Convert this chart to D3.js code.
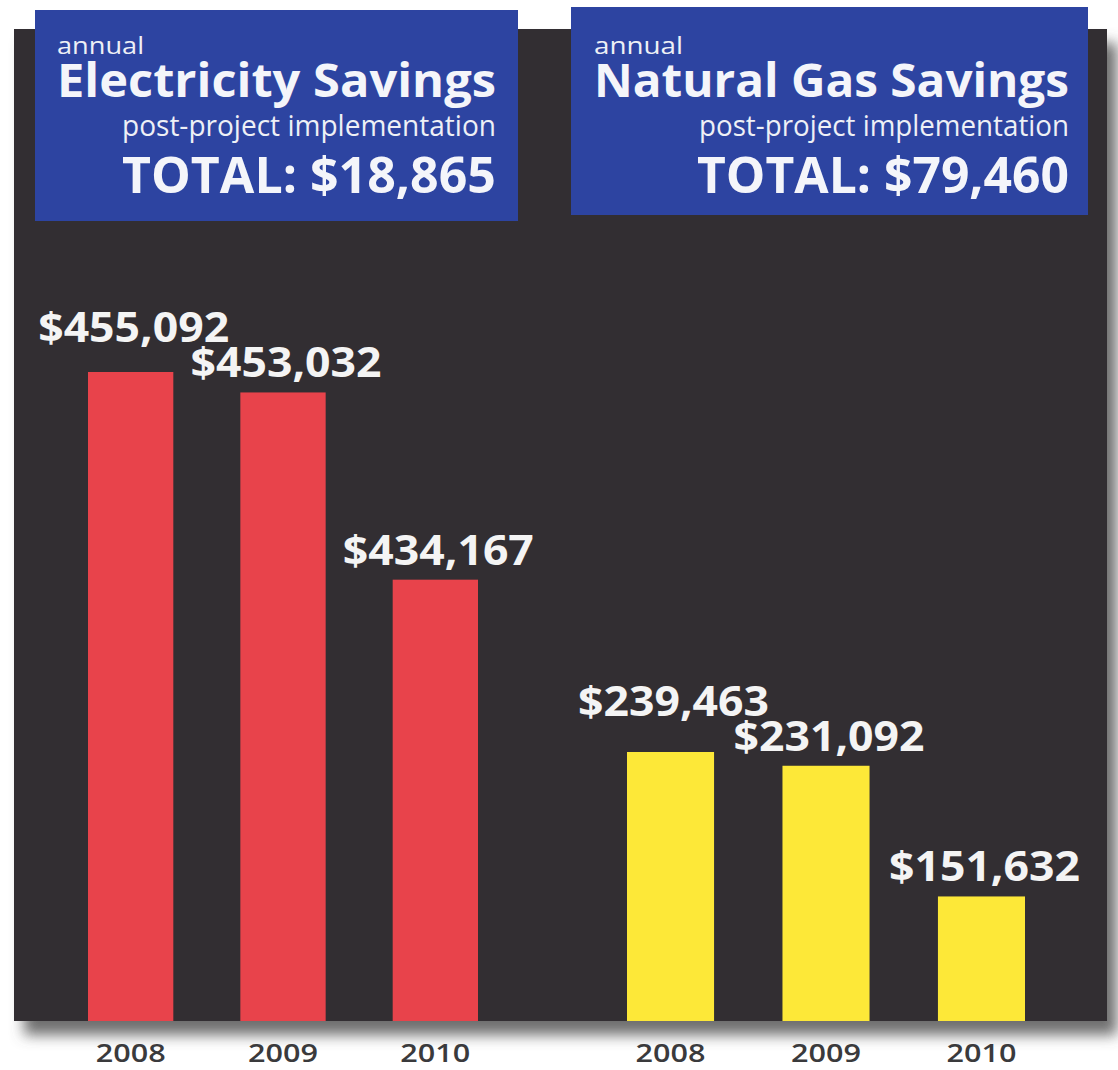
<!DOCTYPE html>
<html>
<head>
<meta charset="utf-8">
<script src="https://cdn.jsdelivr.net/npm/d3@7"></script>
<style>
  html, body { margin: 0; padding: 0; background: #ffffff; }
  svg { display: block; }
  text { font-family: "Open Sans", "Noto Sans", sans-serif; }
</style>
</head>
<body>
<svg id="chart" width="1118" height="1070"></svg>
<script>
// ---------------- data ----------------
const years = ["2008", "2009", "2010"];
const electricityValues = [455092, 453032, 434167];
const gasValues = [239463, 231092, 151632];
const panelTitles = ["Electricity Savings", "Natural Gas Savings"];
const panelTotals = [18865, 79460];
const kicker = "annual";
const subtitle = "post-project implementation";

// ---------------- setup ----------------
const svg = d3.select("#chart");
const fmt = d3.format("$,");
const baseline = 1021;

const defs = svg.append("defs");
const f = defs.append("filter").attr("id", "shadow")
  .attr("x", "-5%").attr("y", "-5%").attr("width", "115%").attr("height", "115%");
f.append("feDropShadow").attr("dx", 10).attr("dy", 14).attr("stdDeviation", 7)
  .attr("flood-color", "#555").attr("flood-opacity", 0.85);

// dark panel
svg.append("rect")
  .attr("x", 14).attr("y", 29).attr("width", 1093).attr("height", baseline - 29)
  .attr("fill", "#302e30")
  .attr("filter", "url(#shadow)");

// panel definitions (layout only)
const panels = [
  { values: electricityValues, color: "#e8434b", xr: [88, 478], yDomain: [389700, 455092], yTop: 372,
    box: [35, 10, 483, 211], textL: 57, textR: 496, widths: [87, 439, 374, 374] },
  { values: gasValues, color: "#fde838", xr: [627, 1025], yDomain: [75900, 239463], yTop: 752,
    box: [571, 7, 517, 208], textL: 594, textR: 1069, widths: [89, 475, 370, 372] }
];

const LABEL_W = 191, LABEL_CAP = 31, LABEL_GAP = 4, LABEL_OFF = 15;

panels.forEach((p, pi) => {
  const x = d3.scaleBand().domain(years).range(p.xr).paddingInner(0.44).paddingOuter(0);
  const y = d3.scaleLinear().domain(p.yDomain).range([baseline, p.yTop]);
  const data = years.map((yr, i) => ({ year: yr, value: p.values[i] }));

  // label positions: just above each bar, nudged up to avoid colliding with the next label
  data.forEach(d => {
    d.lx = x(d.year) + x.bandwidth() / 2 + 3;
    d.ly = y(d.value) - LABEL_OFF;
  });
  for (let i = data.length - 2; i >= 0; i--) {
    const a = data[i], b = data[i + 1];
    const overlapX = Math.abs(a.lx - b.lx) < LABEL_W;
    if (overlapX && a.ly > b.ly - LABEL_CAP - LABEL_GAP) a.ly = b.ly - LABEL_CAP - LABEL_GAP;
  }

  const g = svg.append("g");
  g.selectAll("rect.bar").data(data).join("rect")
    .attr("class", "bar")
    .attr("x", d => x(d.year))
    .attr("width", x.bandwidth())
    .attr("y", d => y(d.value))
    .attr("height", d => baseline - y(d.value))
    .attr("fill", p.color);

  g.selectAll("text.val").data(data).join("text")
    .attr("class", "val")
    .attr("x", d => d.lx)
    .attr("y", d => d.ly)
    .attr("text-anchor", "middle")
    .attr("font-size", 42).attr("font-weight", 700)
    .attr("fill", "#f4f4f4")
    .attr("textLength", LABEL_W).attr("lengthAdjust", "spacingAndGlyphs")
    .text(d => fmt(d.value));

  // year axis
  const axis = d3.axisBottom(x).tickSize(0).tickPadding(0);
  const ag = svg.append("g").attr("transform", `translate(0,${baseline})`).call(axis);
  ag.select(".domain").remove();
  ag.selectAll("text")
    .attr("y", 41).attr("dy", 0)
    .attr("font-size", 26).attr("font-weight", 600)
    .attr("font-family", "'Open Sans', sans-serif")
    .attr("fill", "#3a3a3c")
    .attr("textLength", 70).attr("lengthAdjust", "spacingAndGlyphs");

  // title box
  const [bx, by, bw, bh] = p.box;
  const tb = svg.append("g");
  tb.append("rect").attr("x", bx).attr("y", by).attr("width", bw).attr("height", bh)
    .attr("fill", "#2d44a1");
  tb.append("text").attr("x", p.textL).attr("y", 54)
    .attr("font-size", 23).attr("font-weight", 400).attr("fill", "#eef0f6")
    .attr("textLength", p.widths[0]).attr("lengthAdjust", "spacingAndGlyphs")
    .text(kicker);
  tb.append("text").attr("x", p.textR).attr("y", 97).attr("text-anchor", "end")
    .attr("font-size", 47).attr("font-weight", 700).attr("fill", "#f4f5fa")
    .attr("textLength", p.widths[1]).attr("lengthAdjust", "spacingAndGlyphs")
    .text(panelTitles[pi]);
  tb.append("text").attr("x", p.textR).attr("y", 136).attr("text-anchor", "end")
    .attr("font-size", 29).attr("font-weight", 400).attr("fill", "#eef0f6")
    .attr("textLength", p.widths[2]).attr("lengthAdjust", "spacingAndGlyphs")
    .text(subtitle);
  tb.append("text").attr("x", p.textR).attr("y", 193).attr("text-anchor", "end")
    .attr("font-size", 50).attr("font-weight", 700).attr("fill", "#f4f5fa")
    .attr("textLength", p.widths[3]).attr("lengthAdjust", "spacingAndGlyphs")
    .text("TOTAL: " + fmt(panelTotals[pi]));
});
</script>
</body>
</html>
